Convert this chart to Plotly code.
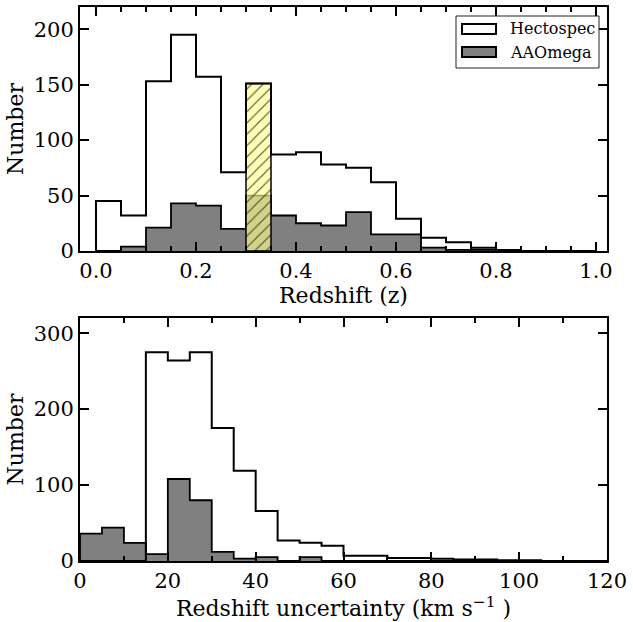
import plotly.graph_objects as go
import numpy as np

# ---------------- data ----------------
z_bin_width = 0.05
z_edges = np.round(np.arange(0, 1.0 + 1e-9, z_bin_width), 3)
z_hectospec = [45, 32, 153, 195, 157, 71, 151, 87, 89, 78, 75, 62, 29, 12, 8, 3, 1, 0, 0, 0]
z_aaomega = [0, 4, 21, 43, 41, 20, 50, 32, 25, 23, 35, 15, 15, 3, 1, 1, 0, 0, 0, 0]
highlight_bin = 6  # 0.30-0.35 hatched bin

dv_bin_width = 5
dv_edges = np.arange(0, 120 + 1, dv_bin_width)
dv_hectospec = [0, 0, 0, 275, 264, 275, 175, 119, 66, 27, 24, 20, 7, 7, 4, 4, 3, 2, 2, 1, 1, 0, 0, 0]
dv_aaomega = [36, 44, 24, 9, 108, 80, 12, 3, 5, 0, 5, 0, 0, 0, 0, 0, 0, 0, 0, 0, 0, 0, 0, 0]

series_names = ["Hectospec", "AAOmega"]

FONT = "DejaVu Serif"
GRAY = "#808080"
YELLOW = "rgba(255,255,140,0.65)"


def step_xy(edges, counts):
    x = [edges[0]] + list(edges[:-1]) + [edges[-1]]
    y = [0] + list(counts) + [0]
    return x, y


fig = go.Figure()

# ---- top panel ----
x, y = step_xy(z_edges, z_aaomega)
fig.add_trace(go.Scatter(x=x, y=y, mode="lines", line=dict(shape="hv", color="black", width=1.8),
                         fill="tozeroy", fillcolor=GRAY, showlegend=False, xaxis="x", yaxis="y",
                         hoverinfo="skip"))

e0, e1 = z_edges[highlight_bin], z_edges[highlight_bin + 1]
hv = z_hectospec[highlight_bin]
fig.add_trace(go.Scatter(x=[e0, e0, e1, e1, e0], y=[0, hv, hv, 0, 0], mode="lines",
                         line=dict(color="black", width=1.5), fill="toself",
                         fillcolor=YELLOW,
                         fillpattern=dict(shape="/", fgcolor="rgba(45,45,45,0.85)",
                                          bgcolor=YELLOW, size=8, solidity=0.14,
                                          fillmode="replace"),
                         showlegend=False, xaxis="x", yaxis="y", hoverinfo="skip"))

x, y = step_xy(z_edges, z_hectospec)
fig.add_trace(go.Scatter(x=x, y=y, mode="lines", line=dict(shape="hv", color="black", width=2),
                         showlegend=False, xaxis="x", yaxis="y", hoverinfo="skip"))

# ---- bottom panel ----
x, y = step_xy(dv_edges, dv_aaomega)
fig.add_trace(go.Scatter(x=x, y=y, mode="lines", line=dict(shape="hv", color="black", width=1.8),
                         fill="tozeroy", fillcolor=GRAY, showlegend=False, xaxis="x2", yaxis="y2",
                         hoverinfo="skip"))
x, y = step_xy(dv_edges, dv_hectospec)
fig.add_trace(go.Scatter(x=x, y=y, mode="lines", line=dict(shape="hv", color="black", width=2),
                         showlegend=False, xaxis="x2", yaxis="y2", hoverinfo="skip"))

W, H = 633, 622
xdom = [80 / W, 607 / W]
top_dom = [(H - 251) / H, (H - 7) / H]
bot_dom = [(H - 561) / H, (H - 318) / H]

axis_common = dict(showline=True, linewidth=2, linecolor="black", mirror="ticks",
                   ticks="inside", ticklen=9, tickwidth=1.5, tickcolor="black",
                   showgrid=False, zeroline=False, automargin=False,
                   tickfont=dict(family=FONT, size=21, color="black"))
title_font = dict(family=FONT, size=22, color="black")

fig.update_layout(
    width=W, height=H,
    margin=dict(l=0, r=0, t=0, b=0, autoexpand=False),
    paper_bgcolor="white", plot_bgcolor="white",
    font=dict(family=FONT, color="black"),
    xaxis=dict(domain=xdom, anchor="y", range=[-0.032, 1.022], tickmode="linear", tick0=0, dtick=0.2,
               tickformat=".1f",
               minor=dict(ticks="inside", ticklen=5, tickwidth=1.5, tickcolor="black", dtick=0.05, tick0=0),
               title=dict(text="Redshift (z)", font=title_font, standoff=4),
               **axis_common),
    yaxis=dict(domain=top_dom, anchor="x", range=[0, 220], tickmode="linear", tick0=0, dtick=50,
               title=dict(text="Number", font=title_font, standoff=4),
               **axis_common),
    xaxis2=dict(domain=xdom, anchor="y2", range=[0, 120], tickmode="linear", tick0=0, dtick=20,
                minor=dict(ticks="inside", ticklen=5, tickwidth=1.5, tickcolor="black", dtick=10, tick0=0),
                title=dict(text="Redshift uncertainty (km s<sup>\u22121</sup> )",
                           font=title_font, standoff=4),
                **axis_common),
    yaxis2=dict(domain=bot_dom, anchor="x2", range=[0, 320], tickmode="linear", tick0=0, dtick=100,
                title=dict(text="Number", font=title_font, standoff=4),
                **axis_common),
    showlegend=False,
)

# ---- legend (drawn in the top panel's corner) ----
lx0, lx1 = 456 / W, 599 / W
ly0, ly1 = (H - 68) / H, (H - 16) / H
fig.add_shape(type="rect", xref="paper", yref="paper", x0=lx0, x1=lx1, y0=ly0, y1=ly1,
              line=dict(color="#222222", width=1), fillcolor="white")
sx0, sx1 = 462 / W, 496 / W
rows = [((H - 34) / H, (H - 24) / H, "white"), ((H - 57) / H, (H - 47) / H, GRAY)]
for (y0, y1, col), name in zip(rows, series_names):
    fig.add_shape(type="rect", xref="paper", yref="paper", x0=sx0, x1=sx1, y0=y0, y1=y1,
                  line=dict(color="black", width=2), fillcolor=col)
    fig.add_annotation(x=508 / W, y=(y0 + y1) / 2, xref="paper", yref="paper", text=name,
                       showarrow=False, xanchor="left", yanchor="middle",
                       font=dict(family=FONT, size=16, color="black"))

fig.write_html("out.html")
